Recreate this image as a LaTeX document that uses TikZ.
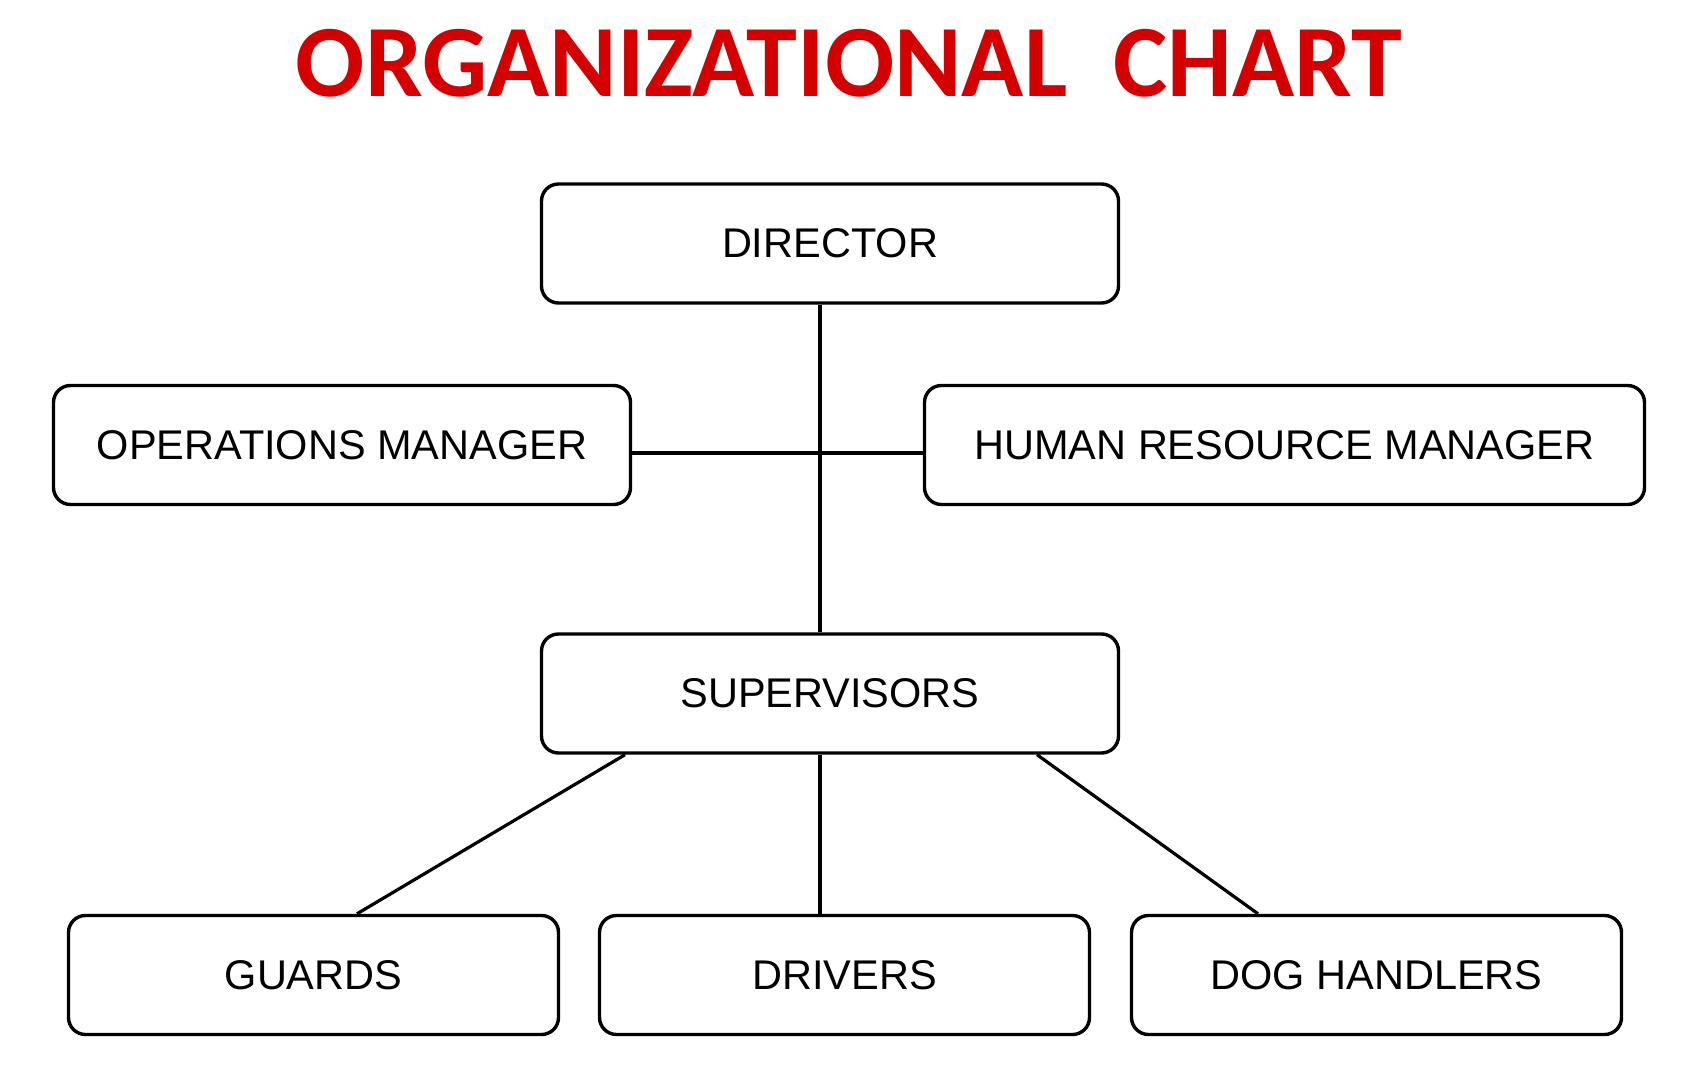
\documentclass[tikz,border=0pt]{standalone}
\usepackage{fontspec}
\setmainfont{Liberation Sans}
\newfontfamily\titlefont{Carlito}
\definecolor{titlered}{RGB}{212,0,0}
\begin{document}
\begin{tikzpicture}[x=1pt,y=-1pt,
  box/.style={draw=black, line width=3.4pt, rounded corners=17pt, fill=white,
    inner sep=0pt, minimum height=119pt, font=\fontsize{41.5}{49}\selectfont},
  conn/.style={draw=black, line width=3.2pt}]
\useasboundingbox (0,0) rectangle (1691,1067);
\node[font=\titlefont\bfseries\fontsize{102.5}{102}\selectfont, text=titlered, anchor=base] (title) at (849,97) {ORGANIZATIONAL\ \ CHART};
\node[box, minimum width=577pt] (dir) at (830,243.5) {\raisebox{-1.5pt}{DIRECTOR}};
\node[box, minimum width=577pt] (ops) at (342,445) {\raisebox{-1.5pt}{OPERATIONS MANAGER}};
\node[box, minimum width=720pt] (hr) at (1284.5,445) {\raisebox{-1.5pt}{HUMAN RESOURCE MANAGER}};
\node[box, minimum width=577pt] (sup) at (830,693.5) {\raisebox{-1.5pt}{SUPERVISORS}};
\node[box, minimum width=490pt] (guards) at (313.5,975) {\raisebox{-1.5pt}{GUARDS}};
\node[box, minimum width=490pt] (drivers) at (844.5,975) {\raisebox{-1.5pt}{DRIVERS}};
\node[box, minimum width=490pt] (dog) at (1376.5,975) {\raisebox{-1.5pt}{DOG HANDLERS}};
\coordinate (vx) at (820,0);
\coordinate (hy) at (0,453);
\coordinate (g1) at (625,0);
\coordinate (g2) at (357,0);
\coordinate (d1) at (1037,0);
\coordinate (d2) at (1258,0);
\draw[conn] (dir.south -| vx) -- (sup.north -| vx);
\draw[conn] (ops.east |- hy) -- (hr.west |- hy);
\draw[conn] (sup.south -| g1) -- (guards.north -| g2);
\draw[conn] (sup.south -| vx) -- (drivers.north -| vx);
\draw[conn] (sup.south -| d1) -- (dog.north -| d2);
\end{tikzpicture}
\end{document}
